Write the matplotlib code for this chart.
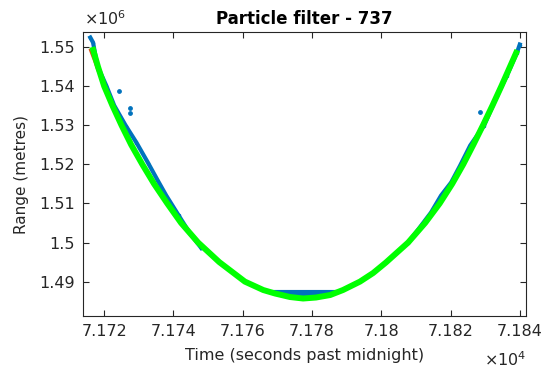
import numpy as np
import matplotlib
matplotlib.use("Agg")
import matplotlib.pyplot as plt
from matplotlib.ticker import FuncFormatter

# filtered track (green), seconds past midnight vs range in metres
track_t = [71716.6, 71718.2, 71720.0, 71722.4, 71725.0, 71727.8, 71731.0, 71734.4,
           71738.2, 71742.2, 71747.1, 71753.2, 71760.6, 71765.9, 71769.3, 71773.6,
           71777.4, 71781.1, 71785.2, 71788.9, 71793.8, 71797.6, 71801.3, 71807.7,
           71812.6, 71816.8, 71820.4, 71823.6, 71826.5, 71829.3, 71832.0, 71834.6,
           71837.1, 71839.2]
track_r = [1550000, 1545000, 1540000, 1535000, 1530000, 1525000, 1520000, 1515000,
           1510000, 1505000, 1500000, 1495000, 1490000, 1487850, 1486960, 1486060,
           1485680, 1485930, 1486570, 1487850, 1490000, 1492200, 1494900, 1500000,
           1505000, 1510000, 1515000, 1520000, 1525000, 1530000, 1535000, 1540000,
           1545000, 1549200]

# measurements (blue), centre of the band that shows beside the track
meas_left_t = [71716.0, 71716.8, 71718.0, 71720.6, 71722.9, 71726.2, 71729.3,
               71732.6, 71735.3, 71737.9, 71741.5, 71744.6, 71748.0]
meas_left_r = [1552430, 1551150, 1545270, 1540150, 1535040, 1529920, 1525570,
               1520460, 1516110, 1512020, 1506910, 1502560, 1498600]
meas_right_t = [71807.7, 71810.6, 71814.3, 71817.2, 71820.1, 71822.7, 71825.6,
                71829.6, 71833.4, 71836.2, 71839.1, 71839.9]
meas_right_r = [1500000, 1503320, 1507670, 1512020, 1515350, 1519690, 1524810,
                1529920, 1537600, 1542710, 1548590, 1550640]
meas_floor = 1488000
outlier_t = [71724.3, 71727.5, 71727.5, 71828.5]
outlier_r = [1538700, 1534400, 1533100, 1533400]

# true trajectory (red), only visible at the start
true_t = [71715.8, 71717.0, 71718.0]
true_r = [1549300, 1546500, 1544000]

blue = '#0072BD'
green = '#00FF00'
red = '#D95319'
ink = '#262626'

plt.rcParams['font.family'] = 'DejaVu Sans'
fig = plt.figure(figsize=(5.52, 3.70), dpi=100)
ax = fig.add_axes([0.1504, 0.1459, 0.8025, 0.7676])

ax.plot(true_t, true_r, color=red, lw=1.2, zorder=1)
ax.plot(meas_left_t, meas_left_r, color=blue, lw=3.0, marker='.', ms=3, zorder=2)
ax.plot(meas_right_t, meas_right_r, color=blue, lw=3.0, marker='.', ms=3, zorder=2)
ax.scatter(outlier_t, outlier_r, s=6, color=blue, zorder=2)
tr = np.array(track_r)
ax.fill_between(track_t, track_r, meas_floor, where=tr < meas_floor,
                interpolate=True, color=blue, lw=0, zorder=2)
ax.plot(track_t, track_r, color=green, lw=4.3, solid_capstyle='butt',
        solid_joinstyle='round', zorder=3)

ax.set_xlim(71713.9, 71841.7)
ax.set_ylim(1481200, 1553840)
ax.set_xticks([71720, 71740, 71760, 71780, 71800, 71820, 71840])
ax.set_yticks([1490000, 1500000, 1510000, 1520000, 1530000, 1540000, 1550000])
ax.xaxis.set_major_formatter(FuncFormatter(lambda v, p: ('%.3f' % (v / 1e4)).rstrip('0').rstrip('.')))
ax.yaxis.set_major_formatter(FuncFormatter(lambda v, p: ('%.2f' % (v / 1e6)).rstrip('0').rstrip('.')))
ax.tick_params(direction='in', length=4, width=0.8, colors=ink, labelsize=11.5,
               top=True, right=True, labeltop=False, labelright=False, pad=6)
for s in ax.spines.values():
    s.set_color(ink)
    s.set_linewidth(0.8)

ax.set_xlabel('Time (seconds past midnight)', fontsize=11.5, color=ink, labelpad=6)
ax.set_ylabel('Range (metres)', fontsize=11, color=ink, labelpad=7)
ax.set_title('Particle filter - 737', fontsize=12, fontweight='bold', color='black', pad=6)

fig.text(0.152, 0.925, r'$\times10^{6}$', fontsize=11.5, color=ink, ha='left', va='bottom')
fig.text(0.953, 0.004, r'$\times10^{4}$', fontsize=11.5, color=ink, ha='right', va='bottom')

fig.savefig('out.png', dpi=100)
